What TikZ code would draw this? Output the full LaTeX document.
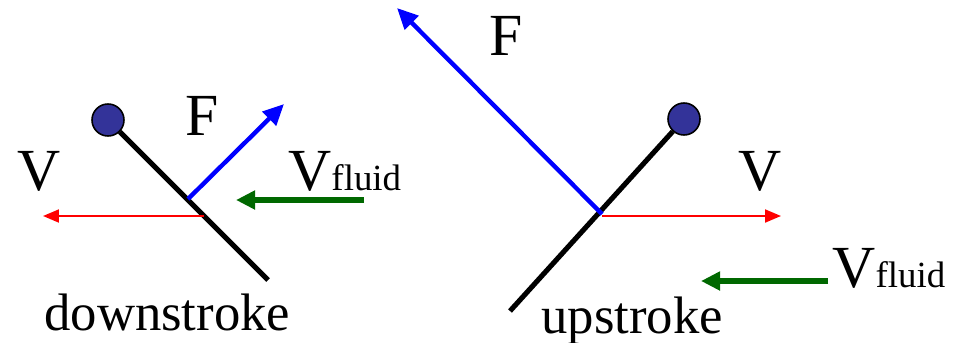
\documentclass[tikz,border=0pt]{standalone}
\usepackage{fontspec}
\setmainfont{Liberation Serif}
\usetikzlibrary{arrows.meta, positioning, calc}
\definecolor{fluidgreen}{RGB}{0,104,0}
\definecolor{jointblue}{RGB}{51,51,153}

\begin{document}
\begin{tikzpicture}[x=0.02cm, y=-0.02cm,
    wing/.style={line width=2.9pt},
    joint/.style={circle, draw, line width=0.9pt, fill=jointblue, minimum size=0.64cm, inner sep=0pt},
    force/.style={blue, line width=2.5pt, -{Triangle[length=0.42cm, width=0.38cm]}},
    vel/.style={red, line width=1.1pt, -{Triangle[length=0.32cm, width=0.26cm]}},
    flow/.style={fluidgreen, line width=2.9pt, -{Triangle[length=0.38cm, width=0.36cm]}},
    big/.style={font=\fontsize{34}{40}\selectfont, inner sep=0pt},
    caption/.style={font=\fontsize{30}{35}\selectfont, inner sep=0pt}]
    \useasboundingbox (0,0) rectangle (955,342);

    % downstroke
    \node[joint] (jl) at (108,120) {};
    \coordinate (lfoot) at (268,280);
    \coordinate (lF) at (188,199);
    \coordinate (lFtip) at (284,104);
    \coordinate (lV) at (204,216);
    \coordinate (lVtip) at (43,216);
    \coordinate (lflow) at (364,200);
    \coordinate (lflowtip) at (236,200);

    \draw[wing] (jl) -- (lfoot);
    \draw[force] (lF) -- (lFtip);
    \draw[vel] (lV) -- (lVtip);
    \draw[flow] (lflow) -- (lflowtip);

    \node[big, anchor=base] (lFlbl) at (202,135) {F};
    \node[big, anchor=base] (lVlbl) at (39,190) {V};
    \node[big, anchor=base west] (lfluid) at (288,190) {V{\fontsize{21}{24}\selectfont fluid}};
    \node[caption, anchor=base west] (down) at (44,330) {downstroke};

    % upstroke
    \node[joint] (jr) at (684,119) {};
    \coordinate (rfoot) at (510,311);
    \coordinate (rF) at (602,214);
    \coordinate (rFtip) at (397,8);
    \coordinate (rVtip) at (781,216);
    \coordinate (rflow) at (828,281);
    \coordinate (rflowtip) at (701,281);

    \draw[wing] (jr) -- (rfoot);
    \draw[force] (rF) -- (rFtip);
    \draw[vel] (rF |- rVtip) -- (rVtip);
    \draw[flow] (rflow) -- (rflowtip);

    \node[big, anchor=base] (rFlbl) at (506,55) {F};
    \node[big, anchor=base] (rVlbl) at (760,190) {V};
    \node[big, anchor=base west] (rfluid) at (832,287) {V{\fontsize{21}{24}\selectfont fluid}};
    \node[caption, anchor=base west] (up) at (541,333) {upstroke};
\end{tikzpicture}
\end{document}
